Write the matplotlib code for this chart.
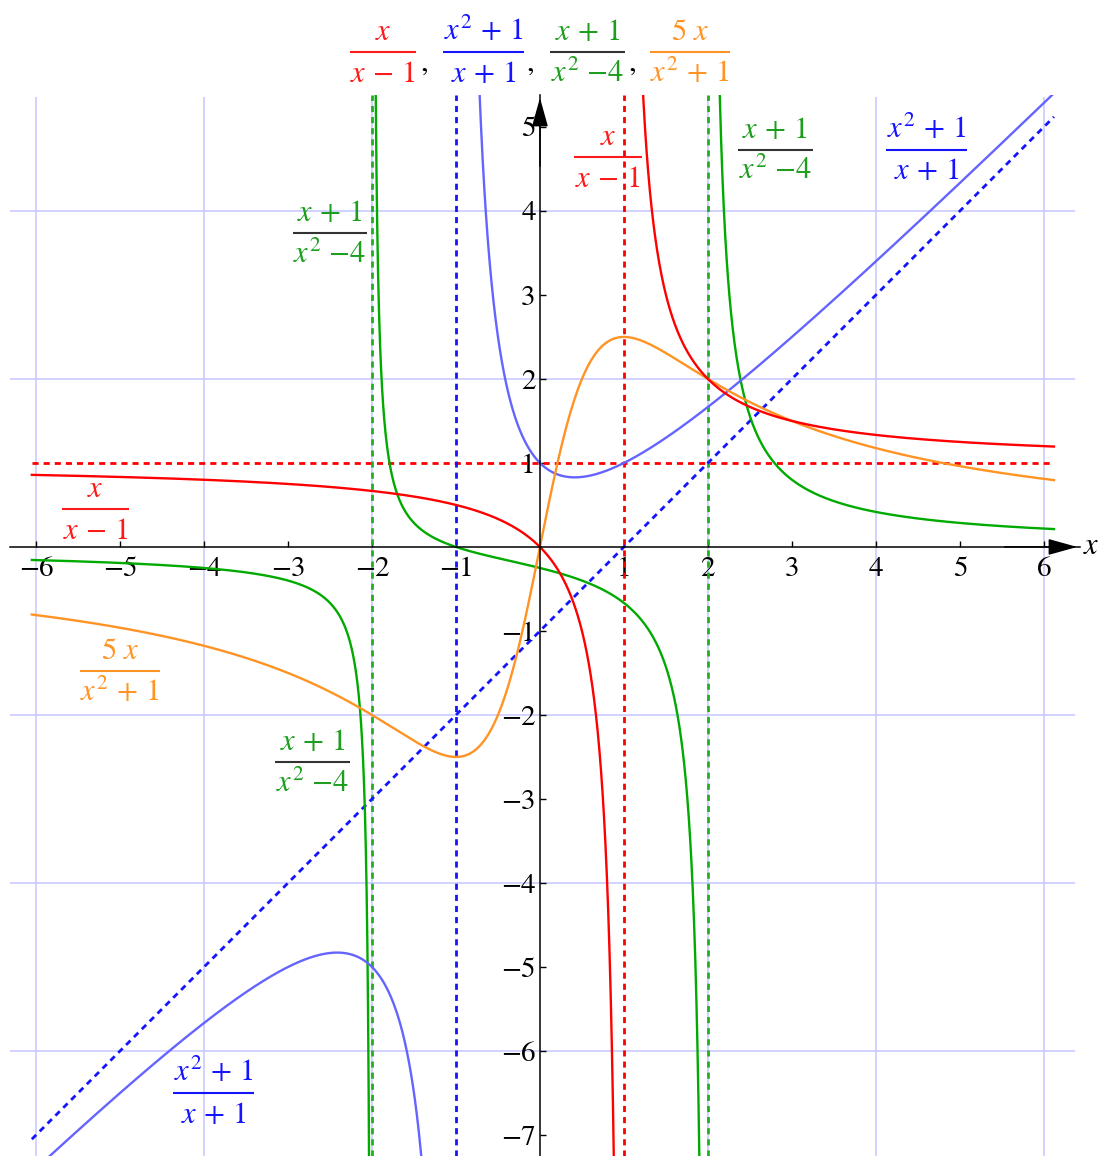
import numpy as np
import matplotlib
matplotlib.use("Agg")
import matplotlib.pyplot as plt

plt.rcParams["mathtext.fontset"] = "stix"
plt.rcParams["font.family"] = ["STIXGeneral", "DejaVu Sans"]

# plotting domain and axis layout
X_START, X_END = -6.05, 6.12
XLIM = (-6.31, 6.43)
YLIM = (-7.25, 5.38)
GRID_X = [-6, -4, -2, 2, 4, 6]
GRID_Y = [-6, -4, -2, 2, 4]
XTICKS = [-6, -5, -4, -3, -2, -1, 1, 2, 3, 4, 5, 6]
YTICKS = [-7, -6, -5, -4, -3, -2, -1, 1, 2, 3, 4, 5]

# asymptotes of each function
RED_VERT = [1]
RED_HORIZ = 1
BLUE_VERT = [-1]
BLUE_SLANT = (1, -1)  # y = x - 1
GREEN_VERT = [-2, 2]

RED = "#FF0000"
BLUE = "#6464FF"
BLUE_DARK = "#1414FF"
GREEN = "#00AA00"
GREEN_DOT = "#22B022"
ORANGE = "#FF9324"
GRID = "#C6C6FF"


def red_f(x):
    return x / (x - 1)


def blue_f(x):
    return (x ** 2 + 1) / (x + 1)


def green_f(x):
    return (x + 1) / (x ** 2 - 4)


def orange_f(x):
    return 5 * x / (x ** 2 + 1)


def branches(poles, eps=1e-3, n=6000):
    edges = [X_START] + sorted(poles) + [X_END]
    out = []
    for a, b in zip(edges[:-1], edges[1:]):
        lo = a + eps if a in poles else a
        hi = b - eps if b in poles else b
        out.append(np.linspace(lo, hi, n))
    return out


def plot_function(ax, f, poles, color, lw=1.7):
    for xs in branches(poles):
        ys = f(xs)
        ys = np.where(np.abs(ys) > 40, np.nan, ys)
        ax.plot(xs, ys, color=color, lw=lw, zorder=4)


def frac(ax, xc, yb, num, den, color, width, bar=None, size=22):
    ax.plot([xc - width / 2, xc + width / 2], [yb, yb], color=bar or color,
            lw=1.5, clip_on=False, solid_capstyle="butt", zorder=6)
    ax.annotate(num, (xc, yb), xytext=(0, 8.5), textcoords="offset points",
                ha="center", va="baseline", color=color, fontsize=size,
                annotation_clip=False, zorder=6)
    ax.annotate(den, (xc, yb), xytext=(0, -21.5), textcoords="offset points",
                ha="center", va="baseline", color=color, fontsize=size,
                annotation_clip=False, zorder=6)


RED_LABEL = (r"$x$", r"$x\,-\,1$")
BLUE_LABEL = (r"$x^2\,+\,1$", r"$x\,+\,1$")
GREEN_LABEL = (r"$x\,+\,1$", r"$x^2\ {-}4$")
ORANGE_LABEL = (r"$5\ x$", r"$x^2\,+\,1$")

fig = plt.figure(figsize=(10.98, 11.56), dpi=100)
ax = fig.add_axes([10 / 1098, 0, 1070 / 1098, 1061 / 1156])
ax.set_xlim(*XLIM)
ax.set_ylim(*YLIM)

# light grid every two units
ax.vlines(GRID_X, YLIM[0], 5.357, color=GRID, lw=1.1, zorder=1)
ax.hlines(GRID_Y, XLIM[0], 6.37, color=GRID, lw=1.1, zorder=1)

# asymptotes
dots = dict(lw=2.0, dashes=(2.2, 1.8), zorder=3)
ax.plot([X_START, X_END], [RED_HORIZ, RED_HORIZ], color=RED, **dots)
for xv in RED_VERT:
    ax.plot([xv, xv], [YLIM[0], YLIM[1]], color=RED, **dots)
for xv in BLUE_VERT:
    ax.plot([xv, xv], [YLIM[0], YLIM[1]], color=BLUE_DARK, **dots)
for xv in GREEN_VERT:
    ax.plot([xv, xv], [YLIM[0], YLIM[1]], color=GREEN_DOT, **dots)
sx = np.array([X_START, X_END])
ax.plot(sx, BLUE_SLANT[0] * sx + BLUE_SLANT[1], color=BLUE_DARK, **dots)

# curves
plot_function(ax, green_f, GREEN_VERT, GREEN)
plot_function(ax, blue_f, BLUE_VERT, BLUE)
plot_function(ax, orange_f, [], ORANGE)
plot_function(ax, red_f, RED_VERT, RED)

# axes through the origin
for side in ["top", "right"]:
    ax.spines[side].set_visible(False)
ax.spines["left"].set_position(("data", 0))
ax.spines["bottom"].set_position(("data", 0))
for side in ["left", "bottom"]:
    ax.spines[side].set_linewidth(1.1)
    ax.spines[side].set_zorder(5)
ax.set_xticks(XTICKS)
ax.set_yticks(YTICKS)
ax.set_xticklabels([f"{t}".replace("-", "\u2212") for t in XTICKS])
ax.set_yticklabels([f"{t}".replace("-", "\u2212") for t in YTICKS])
ax.tick_params(axis="both", direction="in", length=4.5, width=1.0, labelsize=21)
ax.tick_params(axis="x", pad=7)
ax.tick_params(axis="y", pad=3)

arrow = dict(arrowstyle="-|>,head_length=0.9,head_width=0.25", color="black",
             lw=1.1, mutation_scale=20)
ax.annotate("", xy=(XLIM[1], 0), xytext=(5.5, 0), arrowprops=arrow,
            annotation_clip=False)
ax.annotate("", xy=(0, YLIM[1]), xytext=(0, 4.5), arrowprops=arrow,
            annotation_clip=False)
ax.text(6.47, 0, r"$x$", fontsize=22, ha="left", va="center", clip_on=False)

# title row
frac(ax, -1.87, 5.89, *RED_LABEL, "#FF1A1A", 0.79)
frac(ax, -0.67, 5.89, *BLUE_LABEL, BLUE_DARK, 0.96)
frac(ax, 0.565, 5.89, *GREEN_LABEL, "#1E9E1E", 0.89, bar="#333333")
frac(ax, 1.786, 5.89, *ORANGE_LABEL, ORANGE, 0.95)
for cx in [-1.38, -0.12, 1.10]:
    ax.text(cx, 5.75, ",", fontsize=22, ha="center", va="center", clip_on=False)

# labels beside the curves
frac(ax, 0.81, 4.64, *RED_LABEL, "#FF1A1A", 0.8)
frac(ax, 2.80, 4.73, *GREEN_LABEL, "#1E9E1E", 0.89, bar="#333333")
frac(ax, 4.60, 4.73, *BLUE_LABEL, BLUE_DARK, 0.96)
frac(ax, -2.50, 3.74, *GREEN_LABEL, "#1E9E1E", 0.89, bar="#333333")
frac(ax, -5.29, 0.45, *RED_LABEL, "#FF1A1A", 0.79)
frac(ax, -5.00, -1.48, *ORANGE_LABEL, ORANGE, 0.95)
frac(ax, -2.71, -2.56, *GREEN_LABEL, "#1E9E1E", 0.89, bar="#333333")
frac(ax, -3.89, -6.50, *BLUE_LABEL, BLUE_DARK, 0.96)

fig.savefig("out.png", dpi=100)
